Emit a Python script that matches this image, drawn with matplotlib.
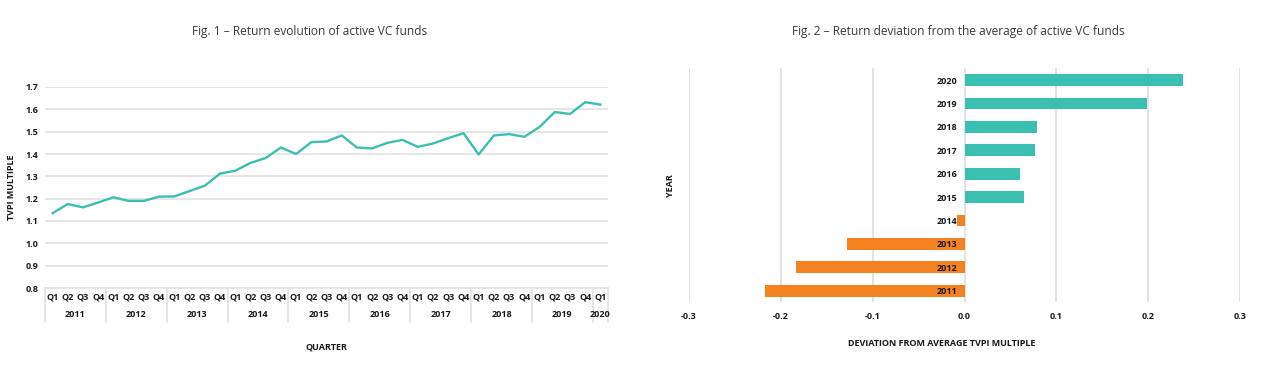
import matplotlib.pyplot as plt
import matplotlib.transforms as mtransforms

# Fig. 1 data: TVPI multiple by quarter, Q1 2011 .. Q1 2020
years = ['2011', '2012', '2013', '2014', '2015', '2016', '2017', '2018', '2019', '2020']
quarters = ['Q1', 'Q2', 'Q3', 'Q4'] * 9 + ['Q1']
tvpi = [1.135, 1.176, 1.161, 1.183,
        1.206, 1.190, 1.190, 1.209,
        1.210, 1.234, 1.258, 1.312,
        1.325, 1.360, 1.382, 1.429,
        1.400, 1.453, 1.456, 1.483,
        1.429, 1.425, 1.450, 1.463,
        1.432, 1.447, 1.471, 1.493,
        1.398, 1.483, 1.489, 1.477,
        1.521, 1.588, 1.579, 1.632,
        1.621]

# Fig. 2 data: deviation from average TVPI by vintage year
deviation = [-0.217, -0.183, -0.128, -0.008, 0.065, 0.060, 0.077, 0.079, 0.199, 0.238]
xticks2 = [-0.3, -0.2, -0.1, 0.0, 0.1, 0.2, 0.3]

TEAL = '#3abfb0'
ORANGE = '#f58220'
GRID = '#e2e2e2'
TXT = '#1a1a1a'
FS = 6.5

plt.rcParams['font.family'] = ['Open Sans', 'DejaVu Sans']

fig = plt.figure(figsize=(12.77, 3.73), dpi=100)

# ---------------- Fig. 1 ----------------
ax1 = fig.add_axes([45 / 1277, 1 - 288 / 373, 563 / 1277, 201 / 373])
x = list(range(len(tvpi)))
ax1.plot(x, tvpi, color=TEAL, lw=1.7)
ax1.set_xlim(-0.5, len(tvpi) - 0.5)
ax1.set_ylim(0.8, 1.7)
ax1.set_yticks([0.8 + 0.1 * i for i in range(10)])
ax1.set_yticklabels(['%.1f' % (0.8 + 0.1 * i) for i in range(10)])
ax1.grid(axis='y', color=GRID, lw=1.2)
ax1.set_axisbelow(True)
for s in ['top', 'right', 'left']:
    ax1.spines[s].set_visible(False)
ax1.spines['bottom'].set_color(GRID)
ax1.spines['bottom'].set_linewidth(1.2)
ax1.set_xticks(x)
ax1.set_xticklabels(quarters)
ax1.tick_params(axis='both', length=0, labelsize=FS, colors=TXT)
ax1.tick_params(axis='x', pad=3)
ax1.tick_params(axis='y', pad=5)
for lab in ax1.get_xticklabels() + ax1.get_yticklabels():
    lab.set_fontweight('bold')

trans = mtransforms.blended_transform_factory(ax1.transData, ax1.transAxes)
# year group labels and separators
for i, yr in enumerate(years):
    start = i * 4
    end = min(start + 4, len(tvpi))
    center = (start + end - 1) / 2
    ax1.text(center, -0.13, yr, transform=trans, ha='center', va='center',
             fontsize=FS, fontweight='bold', color=TXT)
seps = [i * 4 - 0.5 for i in range(10)] + [len(tvpi) - 0.5]
for sx in seps:
    ax1.plot([sx, sx], [0, -0.17], transform=trans, color=GRID, lw=1.2,
             clip_on=False)

ax1.set_ylabel('TVPI MULTIPLE', fontsize=FS, fontweight='bold', color=TXT)
ax1.yaxis.set_label_coords(-0.052, 0.5)
ax1.set_xlabel('QUARTER', fontsize=FS, fontweight='bold', color=TXT)
ax1.xaxis.set_label_coords(0.5, -0.27)
fig.text(310 / 1277, 1 - 32 / 373, 'Fig. 1 \u2013 Return evolution of active VC funds',
         ha='center', va='center', fontsize=8.6, color='#3a3a3a')

# ---------------- Fig. 2 ----------------
ax2 = fig.add_axes([689 / 1277, 1 - 302.4 / 373, 551 / 1277, 234 / 373])
ypos = list(range(len(years)))
colors = [TEAL if v >= 0 else ORANGE for v in deviation]
for gx in xticks2:
    ax2.axvline(gx, color=GRID, lw=1.4, zorder=0)
ax2.barh(ypos, deviation, height=0.5, color=colors, zorder=2)
ax2.set_xlim(-0.3, 0.3)
ax2.set_ylim(-0.5, len(years) - 0.5)
ax2.set_xticks(xticks2)
ax2.set_xticklabels(['%.1f' % v for v in xticks2])
for s in ['top', 'right', 'bottom']:
    ax2.spines[s].set_visible(False)
ax2.spines['left'].set_position(('data', 0))
ax2.spines['left'].set_visible(False)
ax2.set_yticks(ypos)
ax2.set_yticklabels(years)
ax2.set_axisbelow(False)
ax2.tick_params(axis='both', length=0, labelsize=FS, colors=TXT)
ax2.tick_params(axis='y', pad=5)
ax2.tick_params(axis='x', pad=7)
for lab in ax2.get_xticklabels() + ax2.get_yticklabels():
    lab.set_fontweight('bold')

ax2.set_ylabel('YEAR', fontsize=FS, fontweight='bold', color=TXT)
ax2.yaxis.set_label_coords(-0.026, 0.5)
ax2.set_xlabel('DEVIATION FROM AVERAGE TVPI MULTIPLE', fontsize=FS,
               fontweight='bold', color=TXT)
ax2.xaxis.set_label_coords(0.458, -0.155)
fig.text(958 / 1277, 1 - 32 / 373,
         'Fig. 2 \u2013 Return deviation from the average of active VC funds',
         ha='center', va='center', fontsize=8.6, color='#3a3a3a')

fig.savefig('out.png', dpi=100)
